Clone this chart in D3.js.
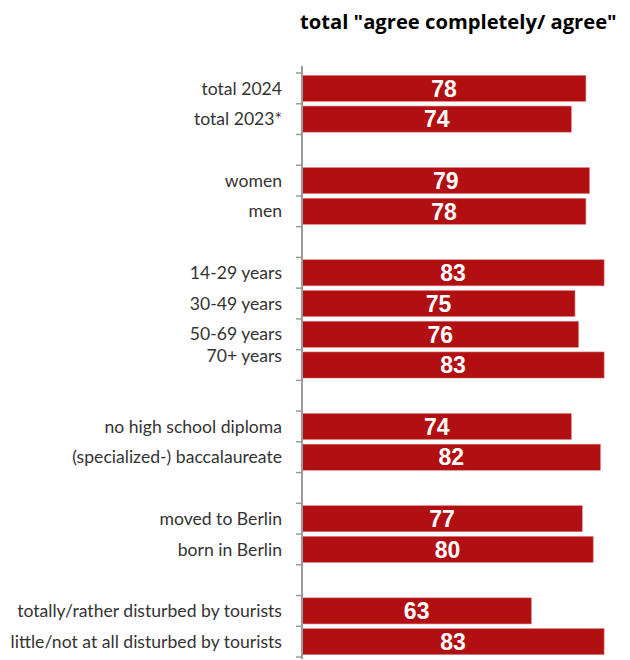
<!DOCTYPE html>
<html>
<head>
<meta charset="utf-8">
<script src="https://cdn.jsdelivr.net/npm/d3@7"></script>
<style>
  body { margin: 0; background: #fff; }
</style>
</head>
<body>
<div id="chart"></div>
<script>
// rows in display order, empty strings are the gaps between groups
var categories = [
  "total 2024", "total 2023*", "",
  "women", "men", "",
  "14-29 years", "30-49 years", "50-69 years", "70+ years", "",
  "no high school diploma", "(specialized-) baccalaureate", "",
  "moved to Berlin", "born in Berlin", "",
  "totally/rather disturbed by tourists", "little/not at all disturbed by tourists"
];
var values = [78, 74, null, 79, 78, null, 83, 75, 76, 83, null, 74, 82, null, 77, 80, null, 63, 83];
var title = 'total "agree completely/ agree"';

var width = 630, height = 660;
var svg = d3.select("#chart").append("svg")
    .attr("width", width)
    .attr("height", height);

var x = d3.scaleLinear().domain([0, 100]).range([302, 666]);
var y = d3.scaleBand()
    .domain(categories.map(function(d, i) { return i; }))
    .range([73, 657])
    .paddingInner(0.15)
    .paddingOuter(0.075);

svg.append("text")
    .attr("x", 300)
    .attr("y", 29)
    .style("font-family", "'Open Sans', sans-serif")
    .style("font-weight", "bold")
    .style("font-size", "20.2px")
    .style("fill", "#000")
    .text(title);

var rows = categories.map(function(c, i) { return {label: c, value: values[i], i: i}; });

svg.selectAll("rect.bar")
    .data(rows.filter(function(d) { return d.value != null; }))
    .enter().append("rect")
    .attr("class", "bar")
    .attr("x", x(0))
    .attr("y", function(d) { return y(d.i); })
    .attr("width", function(d) { return x(d.value) - x(0); })
    .attr("height", y.bandwidth())
    .style("fill", "#b20f12")
    .style("stroke", "#d98a8c")
    .style("stroke-width", 0.6);

svg.selectAll("text.val")
    .data(rows.filter(function(d) { return d.value != null; }))
    .enter().append("text")
    .attr("class", "val")
    .attr("x", function(d) { return (x(0) + x(d.value)) / 2; })
    .attr("y", function(d) { return y(d.i) + y.bandwidth() / 2; })
    .attr("dy", "0.36em")
    .attr("text-anchor", "middle")
    .style("font-family", "'Liberation Sans', Arial, sans-serif")
    .style("font-weight", "bold")
    .style("font-size", "23px")
    .style("fill", "#fff")
    .text(function(d) { return d.value; });

svg.selectAll("text.cat")
    .data(rows.filter(function(d) { return d.label !== ""; }))
    .enter().append("text")
    .attr("class", "cat")
    .attr("x", 282)
    .attr("y", function(d) { return y(d.i) + y.bandwidth() / 2 - (d.label === "70+ years" ? 9 : 0); })
    .attr("dy", "0.35em")
    .attr("text-anchor", "end")
    .style("font-family", "Lato, sans-serif")
    .style("font-size", "17.6px")
    .style("fill", "#333")
    .text(function(d) { return d.label; });

// axis line with ticks at the band edges
var tickYs = d3.range(categories.length + 1).map(function(i) { return 73 + i * (584 / categories.length); });
var ax = svg.append("g").style("stroke", "#9a9a9a");
ax.append("line")
    .attr("x1", x(0)).attr("x2", x(0))
    .attr("y1", 66).attr("y2", 659)
    .style("stroke-width", 2);
ax.selectAll("line.tick")
    .data(tickYs)
    .enter().append("line")
    .attr("class", "tick")
    .attr("x1", x(0) - 6).attr("x2", x(0))
    .attr("y1", function(d) { return d; })
    .attr("y2", function(d) { return d; })
    .style("stroke-width", 1.5);
</script>
</body>
</html>
